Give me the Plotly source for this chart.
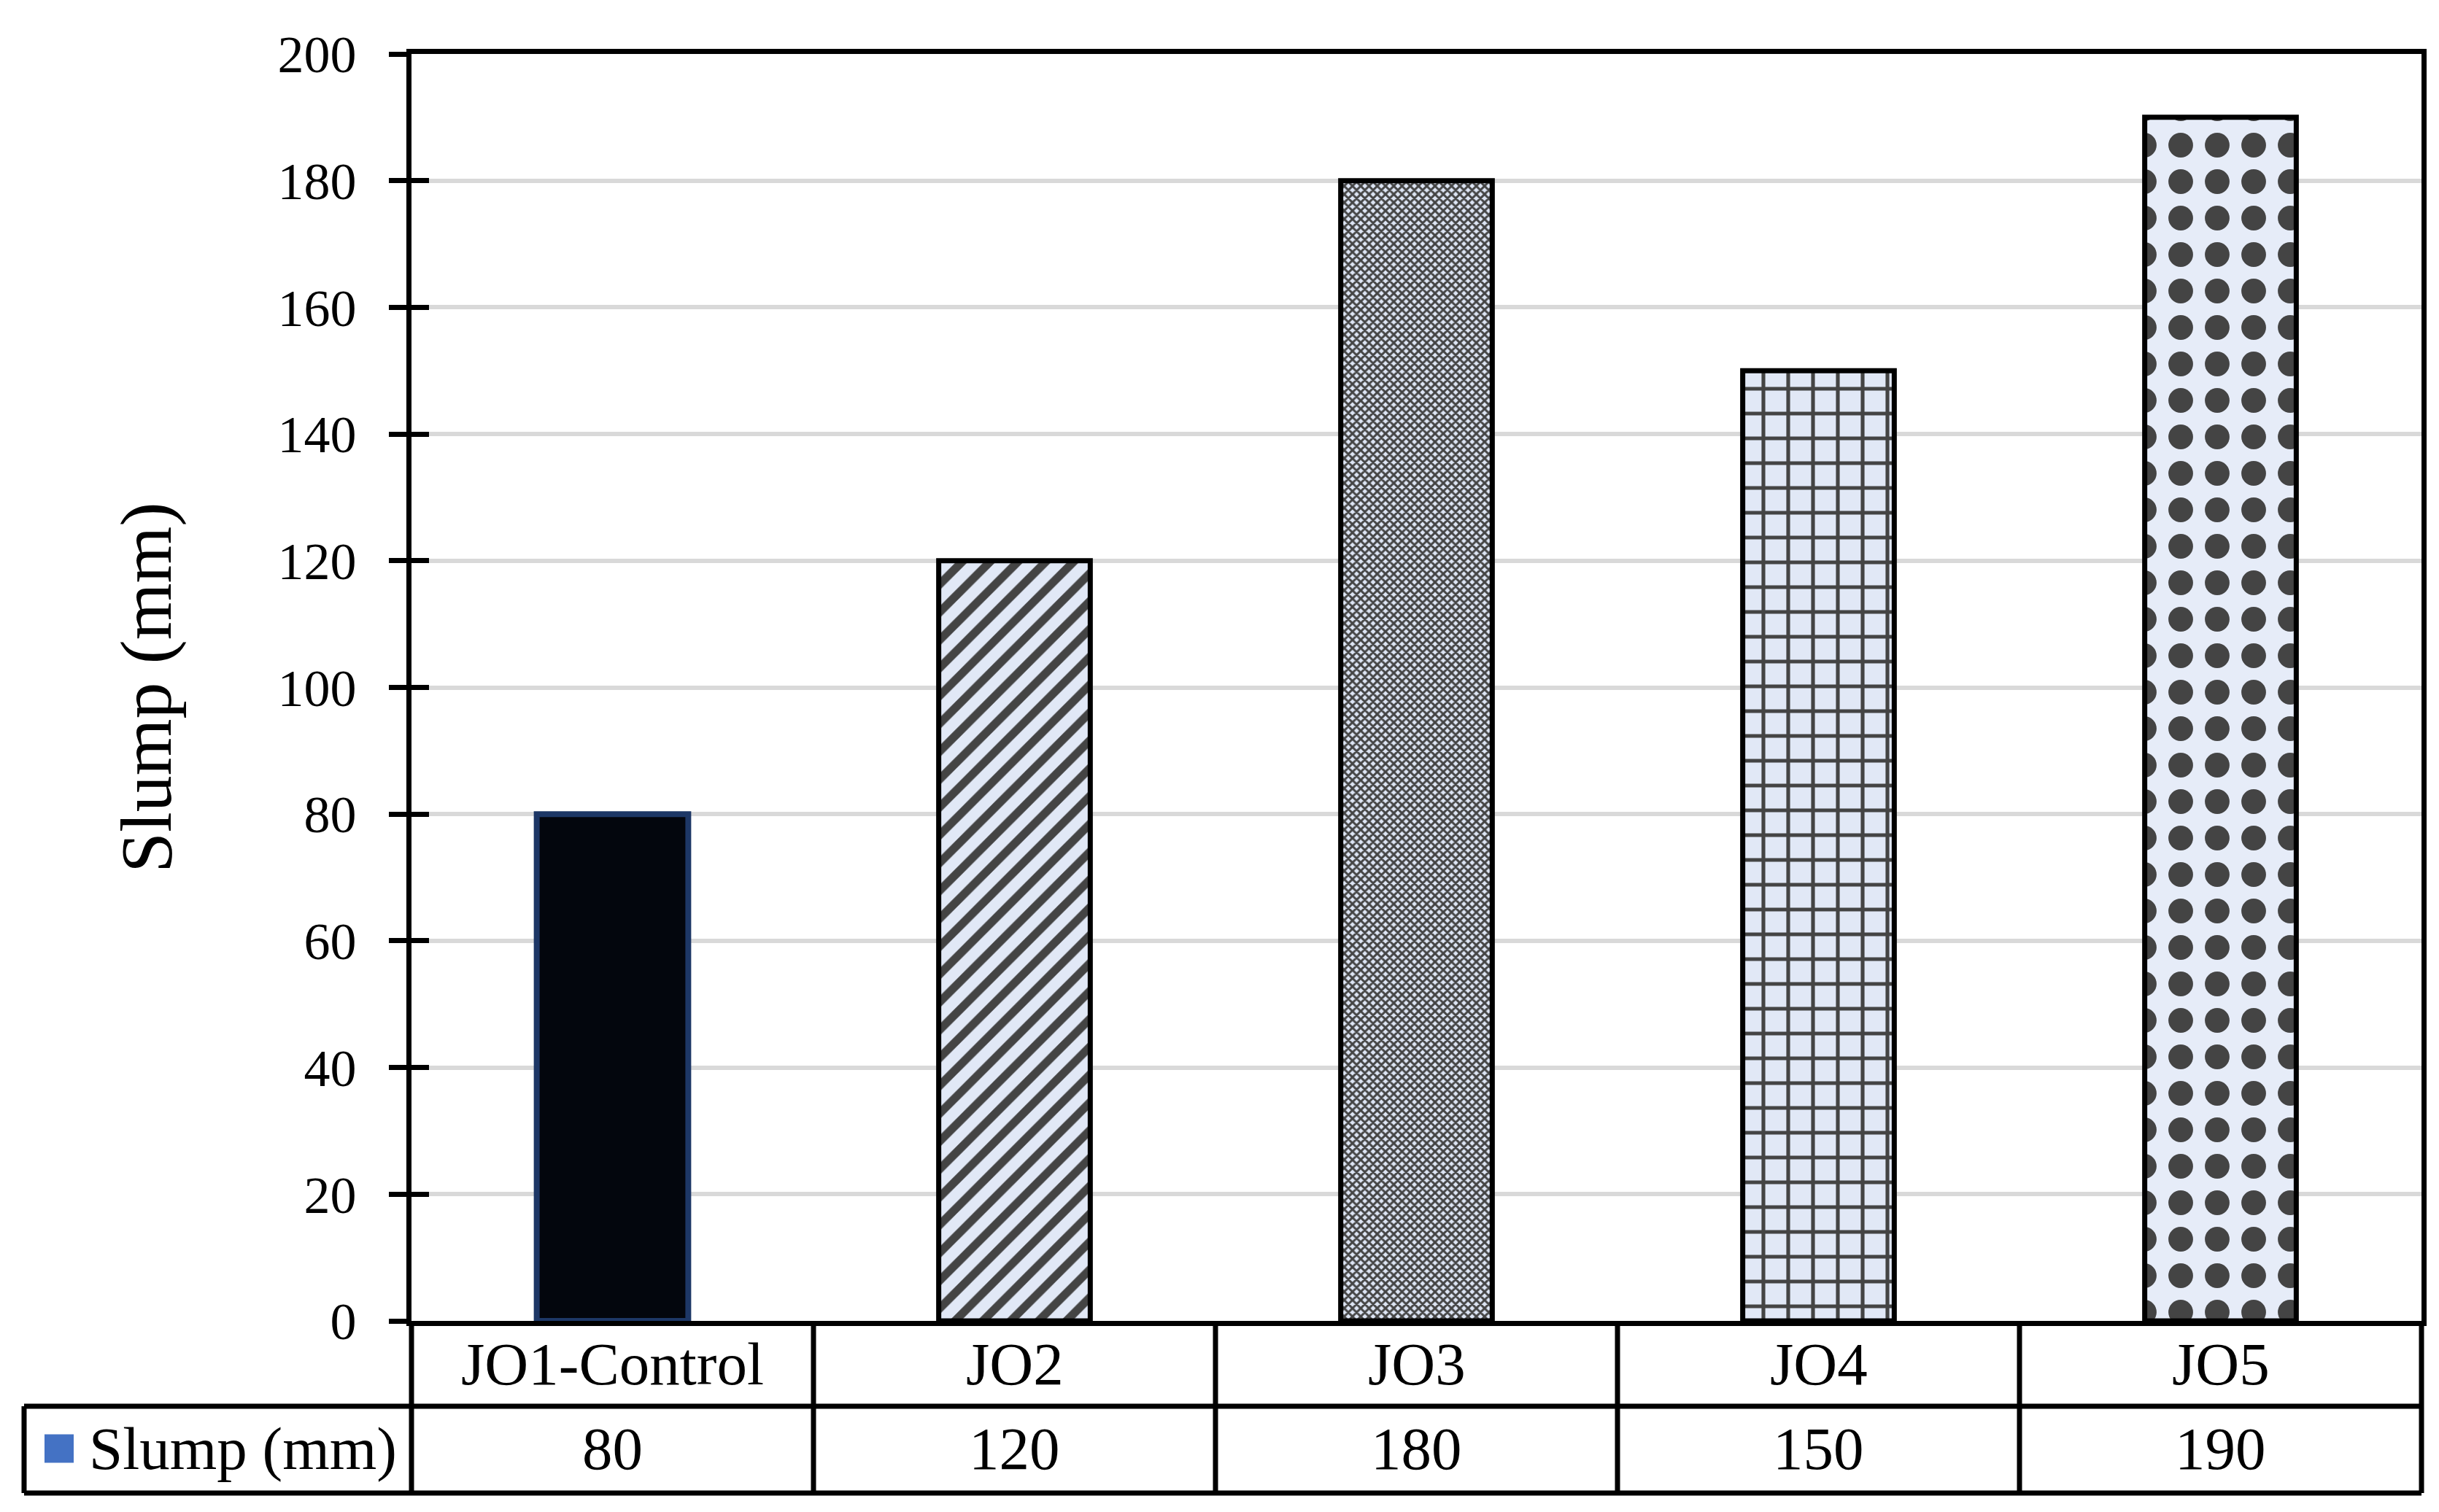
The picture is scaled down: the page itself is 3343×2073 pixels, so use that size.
import plotly.graph_objects as go

# ---- data ----
categories = ["JO1-Control", "JO2", "JO3", "JO4", "JO5"]
slump_mm = [80, 120, 180, 150, 190]
series_name = "Slump (mm)"
y_ticks = [0, 20, 40, 60, 80, 100, 120, 140, 160, 180, 200]

# ---- styles ----
FONT = "Liberation Serif, Times New Roman, serif"
bar_fill = ["#03060d", "#e1e8f6", "#dde5f4", "#e1e8f6", "#e6ecf8"]
pat_shape = ["", "/", "x", "+", "."]
pat_size = [10, 27, 8, 34, 50]
pat_solid = [0.3, 0.42, 0.6, 0.28, 0.36]
pat_fg = ["#000000"] * 5
line_col = ["#1d3766", "black", "black", "black", "black"]
line_w = [8, 7, 7, 7, 7]

W, H = 3343, 2073
ML, MR, MT, MB = 556, 32, 66, 270
plot_h = H - MT - MB
plot_w = W - ML - MR
base = H - MB


def py(pix):
    return -(pix - base) / plot_h


def px(pix):
    return (pix - ML) / plot_w


row1 = py(1920)
row2 = py(2039)
cat_y = py(1862)
val_y = py(1978)
leg_x = px(25)
key_x0 = px(53)
key_x1 = px(93)
txt_x = px(112)

fig = go.Figure()
fig.add_trace(go.Bar(
    x=categories, y=slump_mm, width=0.377, name=series_name,
    marker=dict(
        color=bar_fill,
        line=dict(color=line_col, width=line_w),
        pattern=dict(shape=pat_shape, size=pat_size, solidity=pat_solid,
                     fgcolor=pat_fg, fgopacity=1, fillmode="overlay"),
    ),
    showlegend=False,
))
# invisible helper so the overlaying axis (inner half of crossing ticks) is drawn
fig.add_trace(go.Scatter(x=categories, y=slump_mm, yaxis="y2", mode="none",
                         hoverinfo="skip", showlegend=False))

LW = 7
shapes = []
# vertical separators between categories (in axis coordinates)
for i in range(1, len(categories)):
    shapes.append(dict(type="line", xref="x", yref="paper",
                       x0=i - 0.5, x1=i - 0.5, y0=0, y1=row2,
                       line=dict(color="black", width=LW)))
# outer edges
shapes.append(dict(type="line", xref="paper", yref="paper", x0=0, x1=0,
                   y0=0, y1=row2, line=dict(color="black", width=LW)))
shapes.append(dict(type="line", xref="paper", yref="paper", x0=1, x1=1,
                   y0=0, y1=row2, line=dict(color="black", width=LW)))
shapes.append(dict(type="line", xref="paper", yref="paper", x0=leg_x, x1=leg_x,
                   y0=row1, y1=row2, line=dict(color="black", width=LW)))
# horizontal lines
for yy in (row1, row2):
    shapes.append(dict(type="line", xref="paper", yref="paper", x0=leg_x, x1=1,
                       y0=yy, y1=yy, line=dict(color="black", width=LW)))
# legend key square
key_h = 39 / plot_h
shapes.append(dict(type="rect", xref="paper", yref="paper",
                   x0=key_x0, x1=key_x1, y0=val_y - key_h / 2, y1=val_y + key_h / 2,
                   fillcolor="#4472c4", line=dict(width=0)))

annotations = []
for c, v in zip(categories, slump_mm):
    annotations.append(dict(x=c, xref="x", y=cat_y, yref="paper", text=c,
                            showarrow=False, xanchor="center", yanchor="middle",
                            font=dict(family=FONT, size=83, color="black")))
    annotations.append(dict(x=c, xref="x", y=val_y, yref="paper", text=str(v),
                            showarrow=False, xanchor="center", yanchor="middle",
                            font=dict(family=FONT, size=83, color="black")))
annotations.append(dict(x=txt_x, xref="paper", y=val_y, yref="paper", text=series_name,
                        showarrow=False, xanchor="left", yanchor="middle",
                        font=dict(family=FONT, size=83, color="black")))

fig.update_layout(
    width=W, height=H,
    margin=dict(l=ML, r=MR, t=MT, b=MB, pad=0),
    paper_bgcolor="white", plot_bgcolor="white",
    shapes=shapes, annotations=annotations,
    font=dict(family=FONT, color="black"),
    xaxis=dict(
        type="category", categoryorder="array", categoryarray=categories,
        showline=True, mirror=True, linecolor="black", linewidth=LW,
        showgrid=False, ticks="", showticklabels=False,
    ),
    yaxis=dict(
        range=[0, 200], tickvals=y_ticks, ticks="outside", ticklen=24, tickwidth=7,
        tickcolor="black", showline=True, mirror=True, linecolor="black", linewidth=LW,
        showgrid=True, gridcolor="#d9d9d9", gridwidth=6, zeroline=False,
        tickfont=dict(family=FONT, size=72, color="black"),
        ticklabelstandoff=30,
        title=dict(text="Slump (mm)", font=dict(family=FONT, size=100, color="black"),
                   standoff=115),
    ),
    # inner half of the crossing tick marks
    yaxis2=dict(
        overlaying="y", side="left", anchor="x", range=[0, 200], tickvals=y_ticks,
        ticks="inside", ticklen=24, tickwidth=7, tickcolor="black",
        showticklabels=False, showgrid=False, showline=False, zeroline=False,
    ),
)

fig.write_html("out.html")
